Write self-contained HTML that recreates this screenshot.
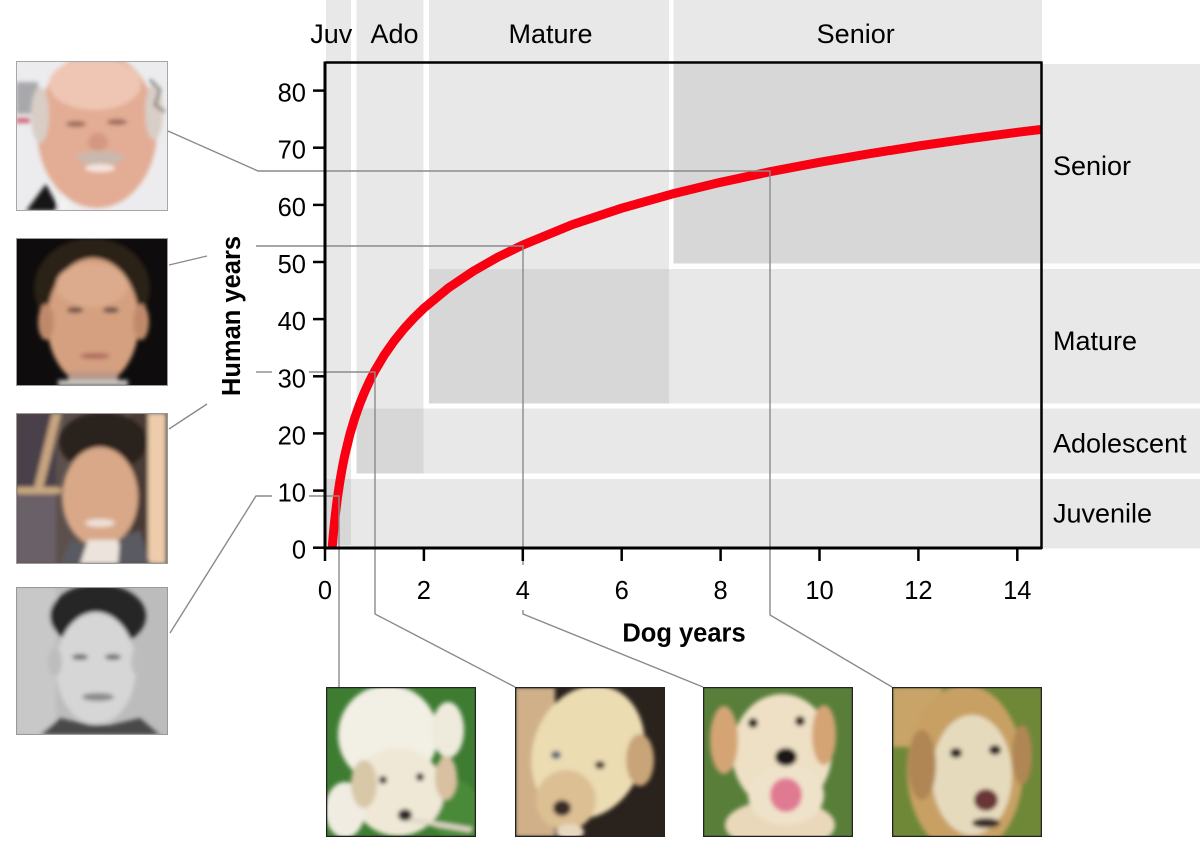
<!DOCTYPE html>
<html>
<head>
<meta charset="utf-8">
<style>
html,body{margin:0;padding:0;background:#fff;}
svg{display:block;}
text{font-family:"Liberation Sans", Arial, sans-serif;fill:#000;}
</style>
</head>
<body>
<svg width="1200" height="858" viewBox="0 0 1200 858" xmlns="http://www.w3.org/2000/svg">
<defs>
  <filter id="bl" x="-20%" y="-20%" width="140%" height="140%"><feGaussianBlur stdDeviation="2.2"/></filter>
  <clipPath id="p1"><rect x="16" y="61" width="152" height="150"/></clipPath>
  <clipPath id="p2"><rect x="16" y="238" width="152" height="148"/></clipPath>
  <clipPath id="p3"><rect x="16" y="413" width="152" height="151"/></clipPath>
  <clipPath id="p4"><rect x="16" y="587" width="152" height="148"/></clipPath>
  <clipPath id="d1"><rect x="326" y="687" width="150" height="150"/></clipPath>
  <clipPath id="d2"><rect x="515" y="687" width="150" height="150"/></clipPath>
  <clipPath id="d3"><rect x="703" y="687" width="150" height="150"/></clipPath>
  <clipPath id="d4"><rect x="892" y="687" width="150" height="150"/></clipPath>
  <clipPath id="plot"><rect x="325" y="62" width="717" height="486"/></clipPath>
</defs>
<rect x="0" y="0" width="1200" height="858" fill="#fff"/>

<!-- bands: columns -->
<g fill="#e8e8e8">
  <rect x="326" y="0" width="25" height="548"/>
  <rect x="356.5" y="0" width="67" height="473.5"/>
  <rect x="429" y="0" width="240" height="403.5"/>
  <rect x="673.5" y="0" width="368.5" height="263.5"/>
  <rect x="673.5" y="64" width="526.5" height="199.5"/>
  <rect x="429" y="269" width="771" height="134.5"/>
  <rect x="356.5" y="408.5" width="843.5" height="65"/>
  <rect x="326" y="479" width="874" height="69.5"/>
</g>
<g fill="#d7d7d7">
  <rect x="673.5" y="64" width="368.5" height="199.5"/>
  <rect x="429" y="269" width="240" height="134.5"/>
  <rect x="356.5" y="408.5" width="67" height="65"/>
  <rect x="326" y="479" width="25" height="66"/>
</g>

<!-- curve -->
<g clip-path="url(#plot)">
<polyline fill="none" stroke="#f80012" stroke-width="9" stroke-linejoin="round"
 points="331.92,551.3 332.42,545 332.91,539.1 333.90,528.3 334.89,518.7 337.36,498.3 339.84,481.6 342.31,467.6 344.78,455.3 349.73,434.9 354.67,418.3 359.62,404.2 364.56,392.0 369.51,381.2 374.45,371.6 384.34,354.9 394.23,340.8 404.12,328.6 414.01,317.8 423.9,308.2 448.6,287.8 473.35,271.1 498.1,257.0 522.8,245.0 572.25,224.6 621.7,208.2 671.15,194.3 720.6,182.3 770.05,171.7 819.5,162.3 868.95,153.8 918.4,146.0 967.85,138.9 1017.3,132.3 1042,129.3 1050,128.4"/>
</g>

<!-- connector lines -->
<g fill="none" stroke="#8a8a8a" stroke-width="1.4">
  <polyline points="168,131 258,171 770,171 770,615 892,687"/>
  <polyline points="169,265 207,256"/>
  <polyline points="256,246 523,246 523,565"/>
  <polyline points="523,610 523,614 703,687"/>
  <polyline points="169,429 207,404"/>
  <polyline points="256,372 272,372"/>
  <polyline points="309,372 375,372 375,614 515,687"/>
  <polyline points="170,633 256,496 272,496"/>
  <polyline points="309,496 339,496 339,687"/>
</g>

<!-- axes / frame -->
<g stroke="#000" fill="none">
  <line x1="325" y1="62.5" x2="1042" y2="62.5" stroke-width="2.5"/>
  <line x1="1041.5" y1="61.5" x2="1041.5" y2="549" stroke-width="2.5"/>
  <line x1="325" y1="61.5" x2="325" y2="549" stroke-width="3"/>
  <line x1="323.5" y1="548" x2="1042" y2="548" stroke-width="3"/>
  <g stroke-width="2.5">
    <line x1="313" y1="547.7" x2="325" y2="547.7"/>
    <line x1="313" y1="490.6" x2="325" y2="490.6"/>
    <line x1="313" y1="433.4" x2="325" y2="433.4"/>
    <line x1="313" y1="376.3" x2="325" y2="376.3"/>
    <line x1="313" y1="319.1" x2="325" y2="319.1"/>
    <line x1="313" y1="262.0" x2="325" y2="262.0"/>
    <line x1="313" y1="204.9" x2="325" y2="204.9"/>
    <line x1="313" y1="147.7" x2="325" y2="147.7"/>
    <line x1="313" y1="90.6" x2="325" y2="90.6"/>
    <line x1="325" y1="548" x2="325" y2="561"/>
    <line x1="423.9" y1="548" x2="423.9" y2="561"/>
    <line x1="522.8" y1="548" x2="522.8" y2="561"/>
    <line x1="621.7" y1="548" x2="621.7" y2="561"/>
    <line x1="720.6" y1="548" x2="720.6" y2="561"/>
    <line x1="819.5" y1="548" x2="819.5" y2="561"/>
    <line x1="918.4" y1="548" x2="918.4" y2="561"/>
    <line x1="1017.3" y1="548" x2="1017.3" y2="561"/>
  </g>
</g>

<!-- tick labels -->
<g font-size="25.5" text-anchor="end">
  <text x="306" y="558.7">0</text>
  <text x="306" y="501.6">10</text>
  <text x="306" y="444.4">20</text>
  <text x="306" y="387.3">30</text>
  <text x="306" y="330.1">40</text>
  <text x="306" y="273.0">50</text>
  <text x="306" y="215.9">60</text>
  <text x="306" y="158.7">70</text>
  <text x="306" y="101.6">80</text>
</g>
<g font-size="25.5" text-anchor="middle">
  <text x="325" y="599">0</text>
  <text x="423.9" y="599">2</text>
  <text x="522.8" y="599">4</text>
  <text x="621.7" y="599">6</text>
  <text x="720.6" y="599">8</text>
  <text x="819.5" y="599">10</text>
  <text x="918.4" y="599">12</text>
  <text x="1017.3" y="599">14</text>
</g>

<!-- axis titles -->
<text x="684" y="641.7" font-size="25.5" font-weight="bold" text-anchor="middle">Dog years</text>
<text transform="translate(240,316) rotate(-90)" font-size="25.5" font-weight="bold" text-anchor="middle">Human years</text>

<!-- band labels -->
<g font-size="27">
  <text x="331.3" y="43" text-anchor="middle">Juv</text>
  <text x="394.5" y="43" text-anchor="middle">Ado</text>
  <text x="550.5" y="43" text-anchor="middle">Mature</text>
  <text x="855.7" y="43" text-anchor="middle">Senior</text>
  <text x="1053" y="175">Senior</text>
  <text x="1053" y="350">Mature</text>
  <text x="1053" y="452.3">Adolescent</text>
  <text x="1053" y="522.7">Juvenile</text>
</g>

<!-- Photo 1: older -->
<g clip-path="url(#p1)">
  <rect x="16" y="61" width="152" height="150" fill="#ececee"/>
  <g filter="url(#bl)">
    <rect x="16" y="82" width="22" height="32" fill="#a8a8ac"/>
    <rect x="16" y="118" width="14" height="5" fill="#d06078"/>
    <ellipse cx="97" cy="130" rx="60" ry="78" fill="#e3ac94"/>
    <ellipse cx="95" cy="84" rx="46" ry="26" fill="#eec6b3"/>
    <ellipse cx="40" cy="115" rx="9" ry="28" fill="#d8cec6"/>
    <ellipse cx="154" cy="112" rx="9" ry="28" fill="#d8cec6"/>
    <path d="M26 211 L46 184 L60 211Z" fill="#151515"/>
    <path d="M56 211 L63 194 L74 211Z" fill="#f2f2f2"/>
    <ellipse cx="100" cy="158" rx="24" ry="7" fill="#c9b8ae"/>
    <ellipse cx="100" cy="168" rx="15" ry="4" fill="#f5e4dc"/>
    <ellipse cx="76" cy="124" rx="10" ry="3" fill="#9a6a5a"/>
    <ellipse cx="117" cy="122" rx="10" ry="3" fill="#9a6a5a"/>
    <ellipse cx="98" cy="142" rx="10" ry="9" fill="#d49882"/>
    <path d="M150 80 L160 90 L155 105 L165 112" stroke="#444" stroke-width="2" fill="none"/>
  </g>
  <rect x="16.5" y="61.5" width="151" height="149" fill="none" stroke="#a8a8a8"/>
</g>

<!-- Photo 2 -->
<g clip-path="url(#p2)">
  <rect x="16" y="238" width="152" height="148" fill="#0e0c0c"/>
  <g filter="url(#bl)">
    <ellipse cx="92" cy="288" rx="58" ry="50" fill="#2c2018"/>
    <ellipse cx="93" cy="322" rx="46" ry="64" fill="#d4a080"/>
    <ellipse cx="92" cy="285" rx="36" ry="22" fill="#dcaa8c"/>
    <ellipse cx="46" cy="322" rx="8" ry="18" fill="#c08a6a"/>
    <ellipse cx="141" cy="322" rx="8" ry="18" fill="#c08a6a"/>
    <rect x="68" y="372" width="50" height="14" fill="#b89888"/>
    <rect x="58" y="380" width="70" height="6" fill="#c8c8c2"/>
    <ellipse cx="75" cy="310" rx="8" ry="3" fill="#6a5046"/>
    <ellipse cx="111" cy="310" rx="8" ry="3" fill="#6a5046"/>
    <ellipse cx="95" cy="356" rx="15" ry="3" fill="#b06a5e"/>
  </g>
  <rect x="16.5" y="238.5" width="151" height="147" fill="none" stroke="#999"/>
</g>

<!-- Photo 3 -->
<g clip-path="url(#p3)">
  <rect x="16" y="413" width="152" height="151" fill="#5c504c"/>
  <g filter="url(#bl)">
    <rect x="16" y="413" width="40" height="75" fill="#4a4048"/>
    <path d="M52 413 L62 413 L42 492 L33 492Z" fill="#c8a480"/>
    <rect x="16" y="487" width="45" height="7" fill="#c8a880"/>
    <rect x="16" y="494" width="40" height="70" fill="#6a6068"/>
    <rect x="148" y="413" width="18" height="151" fill="#ecccaa"/>
    <rect x="130" y="413" width="18" height="151" fill="#4a3a34"/>
    <ellipse cx="103" cy="442" rx="44" ry="30" fill="#2a201c"/>
    <ellipse cx="100" cy="497" rx="38" ry="50" fill="#d8a888"/>
    <path d="M60 564 L70 540 L88 545 L100 564Z" fill="#5a5a62"/>
    <path d="M80 564 L88 540 L118 540 L125 564Z" fill="#ece4dc"/>
    <path d="M118 564 L120 538 L140 530 L150 564Z" fill="#5a5a62"/>
    <ellipse cx="100" cy="523" rx="15" ry="4" fill="#f0e0d8"/>
  </g>
  <rect x="16.5" y="413.5" width="151" height="150" fill="none" stroke="#999"/>
</g>

<!-- Photo 4 -->
<g clip-path="url(#p4)">
  <rect x="16" y="587" width="152" height="148" fill="#bcbcbc"/>
  <g filter="url(#bl)">
    <rect x="16" y="587" width="40" height="148" fill="#c8c8c8"/>
    <ellipse cx="98" cy="616" rx="48" ry="32" fill="#262626"/>
    <ellipse cx="96" cy="668" rx="40" ry="56" fill="#d6d6d6"/>
    <ellipse cx="55" cy="662" rx="7" ry="14" fill="#bdbdbd"/>
    <ellipse cx="138" cy="662" rx="7" ry="14" fill="#bdbdbd"/>
    <path d="M40 735 L60 718 L90 725 L110 725 L140 718 L160 735Z" fill="#4a4a4a"/>
    <ellipse cx="80" cy="657" rx="8" ry="3" fill="#707070"/>
    <ellipse cx="113" cy="657" rx="8" ry="3" fill="#707070"/>
    <ellipse cx="98" cy="697" rx="16" ry="4" fill="#8a8a8a"/>
  </g>
  <rect x="16.5" y="587.5" width="151" height="147" fill="none" stroke="#999"/>
</g>

<!-- Dog 1 -->
<g clip-path="url(#d1)">
  <rect x="326" y="687" width="150" height="150" fill="#3e7c32"/>
  <g filter="url(#bl)">
    <ellipse cx="455" cy="810" rx="25" ry="30" fill="#4a8a38"/>
    <ellipse cx="388" cy="735" rx="50" ry="50" fill="#f2efe4"/>
    <ellipse cx="448" cy="730" rx="16" ry="28" fill="#eeeadc"/>
    <ellipse cx="398" cy="792" rx="46" ry="44" fill="#efe8d6"/>
    <ellipse cx="345" cy="810" rx="20" ry="28" fill="#f0ece2"/>
    <ellipse cx="364" cy="784" rx="13" ry="24" fill="#d8c8a8"/>
    <ellipse cx="446" cy="778" rx="11" ry="22" fill="#d8c0a0"/>
    <ellipse cx="383" cy="780" rx="4" ry="4" fill="#3a3030"/>
    <ellipse cx="420" cy="777" rx="4" ry="4" fill="#3a3030"/>
    <ellipse cx="405" cy="815" rx="7" ry="6" fill="#2e2626"/>
    <path d="M410 820 L472 830" stroke="#e0d8c6" stroke-width="5"/>
  </g>
  <rect x="326.5" y="687.5" width="149" height="149" fill="none" stroke="#222" stroke-width="1.5"/>
</g>

<!-- Dog 2 -->
<g clip-path="url(#d2)">
  <rect x="515" y="687" width="150" height="150" fill="#2a221c"/>
  <g filter="url(#bl)">
    <rect x="515" y="687" width="40" height="150" fill="#d0b088"/>
    <ellipse cx="588" cy="752" rx="55" ry="68" fill="#ecdcb2" transform="rotate(20 588 752)"/>
    <ellipse cx="566" cy="800" rx="30" ry="30" fill="#dcc094"/>
    <ellipse cx="640" cy="760" rx="14" ry="26" fill="#c8a478"/>
    <ellipse cx="562" cy="808" rx="9" ry="8" fill="#3a2a28"/>
    <ellipse cx="556" cy="755" rx="5" ry="4" fill="#5a6a78"/>
    <ellipse cx="600" cy="765" rx="5" ry="4" fill="#4a3a30"/>
    <ellipse cx="570" cy="832" rx="14" ry="8" fill="#e8d8c0"/>
  </g>
  <rect x="515.5" y="687.5" width="149" height="149" fill="none" stroke="#222" stroke-width="1.5"/>
</g>

<!-- Dog 3 -->
<g clip-path="url(#d3)">
  <rect x="703" y="687" width="150" height="150" fill="#587e3a"/>
  <g filter="url(#bl)">
    <ellipse cx="780" cy="825" rx="55" ry="25" fill="#ead8ba"/>
    <ellipse cx="782" cy="752" rx="50" ry="58" fill="#eee0c4"/>
    <ellipse cx="786" cy="795" rx="38" ry="30" fill="#efe2ca"/>
    <ellipse cx="724" cy="740" rx="14" ry="34" fill="#d4a474"/>
    <ellipse cx="824" cy="735" rx="12" ry="30" fill="#d4a474"/>
    <ellipse cx="753" cy="723" rx="5" ry="5" fill="#2a2020"/>
    <ellipse cx="800" cy="721" rx="5" ry="5" fill="#2a2020"/>
    <ellipse cx="786" cy="757" rx="11" ry="9" fill="#1c1616"/>
    <ellipse cx="786" cy="795" rx="16" ry="17" fill="#e07a92"/>
  </g>
  <rect x="703.5" y="687.5" width="149" height="149" fill="none" stroke="#222" stroke-width="1.5"/>
</g>

<!-- Dog 4 -->
<g clip-path="url(#d4)">
  <rect x="892" y="687" width="150" height="150" fill="#6e8838"/>
  <g filter="url(#bl)">
    <rect x="892" y="687" width="50" height="60" fill="#c8a468"/>
    <ellipse cx="965" cy="770" rx="58" ry="85" fill="#c8a064"/>
    <ellipse cx="972" cy="775" rx="40" ry="60" fill="#e6dabd"/>
    <ellipse cx="922" cy="765" rx="14" ry="35" fill="#b08654"/>
    <ellipse cx="1022" cy="755" rx="10" ry="30" fill="#b08654"/>
    <ellipse cx="956" cy="753" rx="6" ry="5" fill="#2a2020"/>
    <ellipse cx="995" cy="750" rx="6" ry="5" fill="#2a2020"/>
    <ellipse cx="986" cy="800" rx="12" ry="11" fill="#6a3636"/>
    <ellipse cx="986" cy="823" rx="14" ry="5" fill="#3a2a26"/>
  </g>
  <rect x="892.5" y="687.5" width="149" height="149" fill="none" stroke="#222" stroke-width="1.5"/>
</g>
</svg>
</body>
</html>
